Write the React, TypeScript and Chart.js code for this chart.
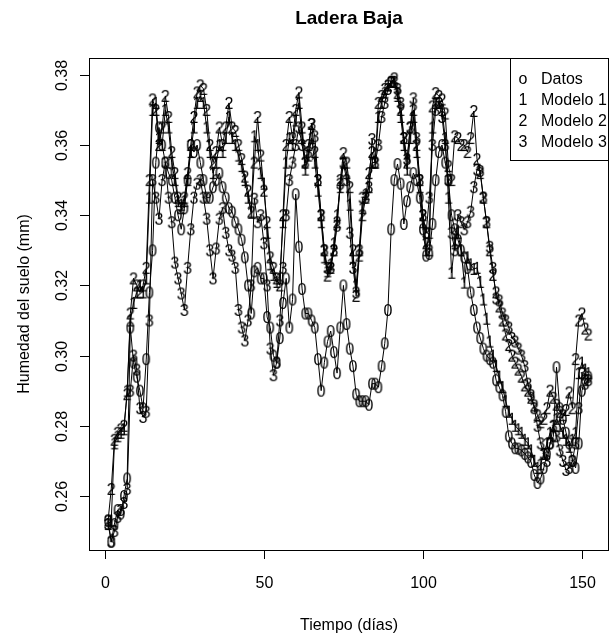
import React, { useEffect, useRef } from "react";
import { Chart, registerables } from "chart.js";

Chart.register(...registerables);

const title = "Ladera Baja";
const xTitle = "Tiempo (días)";
const yTitle = "Humedad del suelo (mm)";
const xTicks = [0, 50, 100, 150];
const yTicks = [0.26, 0.28, 0.3, 0.32, 0.34, 0.36, 0.38];
const legendNames = ["Datos", "Modelo 1", "Modelo 2", "Modelo 3"];
const legendSymbols = ["o", "1", "2", "3"];
const pointChars = ["0", "1", "2", "3"];

const datos = [
  0.253, 0.247, 0.252, 0.256, 0.255, 0.260, 0.265, 0.308, 0.298, 0.294,
  0.290, 0.285, 0.299, 0.318, 0.330, 0.355, 0.365, 0.360, 0.355, 0.352,
  0.350, 0.345, 0.340, 0.336, 0.342, 0.350, 0.360, 0.358, 0.360, 0.355,
  0.350, 0.345, 0.345, 0.348, 0.350, 0.352, 0.348, 0.345, 0.342, 0.341,
  0.338, 0.336, 0.333, 0.328, 0.320, 0.312, 0.324, 0.325, 0.322, 0.322,
  0.311, 0.308, 0.300, 0.298, 0.305, 0.315, 0.322, 0.308, 0.316, 0.346,
  0.331, 0.319, 0.312, 0.312, 0.310, 0.308, 0.299, 0.290, 0.298, 0.304,
  0.307, 0.301, 0.295, 0.308, 0.320, 0.309, 0.302, 0.297, 0.289, 0.287,
  0.287, 0.287, 0.286, 0.292, 0.292, 0.291, 0.297, 0.3035, 0.313, 0.336,
  0.350, 0.3546, 0.349, 0.3375, 0.344, 0.348, 0.352, 0.350, 0.345, 0.336,
  0.3285, 0.329, 0.3375, 0.350, 0.358, 0.360, 0.355, 0.350, 0.340, 0.336,
  0.333, 0.330, 0.328, 0.325, 0.318, 0.313, 0.308, 0.305, 0.302, 0.300,
  0.299, 0.298, 0.293, 0.291, 0.2887, 0.284, 0.277, 0.275, 0.2736, 0.2735,
  0.273, 0.272, 0.271, 0.2697, 0.266, 0.2637, 0.265, 0.268, 0.272, 0.275,
  0.277, 0.2967, 0.285, 0.282, 0.278, 0.275, 0.270, 0.268, 0.275, 0.290,
  0.293, 0.294,
];

const modelo1 = [
  0.252, 0.253, 0.275, 0.277, 0.278, 0.279, 0.290, 0.310, 0.315, 0.318,
  0.320, 0.318, 0.322, 0.345, 0.370, 0.372, 0.362, 0.360, 0.370, 0.365,
  0.355, 0.350, 0.344, 0.343, 0.344, 0.350, 0.358, 0.365, 0.372, 0.374,
  0.372, 0.365, 0.358, 0.352, 0.355, 0.360, 0.358, 0.362, 0.368, 0.362,
  0.360, 0.357, 0.354, 0.350, 0.345, 0.3407, 0.3625, 0.360, 0.352, 0.349,
  0.335, 0.326, 0.323, 0.321, 0.322, 0.338, 0.355, 0.362, 0.360, 0.367,
  0.372, 0.362, 0.353, 0.357, 0.362, 0.355, 0.347, 0.338, 0.328, 0.324,
  0.326, 0.332, 0.340, 0.348, 0.355, 0.352, 0.343, 0.328, 0.320, 0.330,
  0.342, 0.346, 0.348, 0.355, 0.355, 0.368, 0.372, 0.375, 0.377, 0.378,
  0.378, 0.374, 0.368, 0.360, 0.353, 0.362, 0.368, 0.358, 0.348, 0.338,
  0.330, 0.335, 0.365, 0.372, 0.372, 0.370, 0.362, 0.345, 0.3236, 0.332,
  0.335, 0.330, 0.3208, 0.328, 0.326, 0.3247, 0.325, 0.321, 0.316, 0.3105,
  0.304, 0.300, 0.297, 0.294, 0.291, 0.287, 0.284, 0.282, 0.280, 0.279,
  0.278, 0.276, 0.275, 0.273, 0.270, 0.268, 0.269, 0.272, 0.275, 0.278,
  0.280, 0.282, 0.280, 0.278, 0.276, 0.274, 0.276, 0.278, 0.295, 0.298,
  0.296, 0.295,
];

const modelo2 = [
  0.253, 0.262, 0.276, 0.278, 0.279, 0.280, 0.289, 0.312, 0.322, 0.320,
  0.318, 0.320, 0.325, 0.350, 0.373, 0.370, 0.360, 0.365, 0.374, 0.368,
  0.358, 0.352, 0.345, 0.342, 0.345, 0.352, 0.360, 0.368, 0.375, 0.377,
  0.376, 0.370, 0.360, 0.355, 0.358, 0.365, 0.360, 0.365, 0.372, 0.365,
  0.364, 0.360, 0.356, 0.351, 0.347, 0.341, 0.355, 0.368, 0.357, 0.347,
  0.338, 0.328, 0.325, 0.322, 0.320, 0.340, 0.360, 0.368, 0.362, 0.370,
  0.375, 0.365, 0.355, 0.360, 0.366, 0.358, 0.350, 0.340, 0.330, 0.3228,
  0.325, 0.330, 0.338, 0.350, 0.3577, 0.355, 0.348, 0.330, 0.317, 0.3285,
  0.340, 0.345, 0.352, 0.358, 0.355, 0.372, 0.374, 0.376, 0.377, 0.378,
  0.379, 0.3748, 0.370, 0.362, 0.355, 0.365, 0.370, 0.360, 0.350, 0.340,
  0.332, 0.330, 0.371, 0.3748, 0.374, 0.373, 0.369, 0.354, 0.350, 0.3625,
  0.362, 0.360, 0.360, 0.358, 0.362, 0.3697, 0.356, 0.352, 0.345, 0.338,
  0.330, 0.323, 0.318, 0.314, 0.310, 0.306, 0.303, 0.300, 0.298, 0.296,
  0.294, 0.2915, 0.290, 0.288, 0.2858, 0.283, 0.281, 0.282, 0.285, 0.290,
  0.288, 0.286, 0.284, 0.283, 0.2845, 0.2895, 0.285, 0.299, 0.310, 0.312,
  0.3077, 0.306,
];

const modelo3 = [
  0.252, 0.247, 0.250, 0.254, 0.256, 0.258, 0.262, 0.290, 0.300, 0.296,
  0.285, 0.2825, 0.284, 0.310, 0.350, 0.345, 0.339, 0.350, 0.355, 0.345,
  0.338, 0.3265, 0.322, 0.3177, 0.313, 0.325, 0.336, 0.345, 0.349, 0.350,
  0.345, 0.339, 0.330, 0.322, 0.3305, 0.339, 0.342, 0.335, 0.330, 0.3285,
  0.325, 0.313, 0.308, 0.3043, 0.310, 0.320, 0.3447, 0.338, 0.340, 0.332,
  0.320, 0.302, 0.2944, 0.298, 0.310, 0.325, 0.340, 0.350, 0.355, 0.360,
  0.365, 0.360, 0.355, 0.358, 0.366, 0.3625, 0.350, 0.340, 0.330, 0.325,
  0.325, 0.330, 0.337, 0.349, 0.355, 0.350, 0.335, 0.325, 0.318, 0.330,
  0.345, 0.345, 0.348, 0.3617, 0.355, 0.360, 0.368, 0.372, 0.376, 0.378,
  0.378, 0.376, 0.372, 0.362, 0.356, 0.365, 0.3733, 0.362, 0.350, 0.340,
  0.335, 0.345, 0.360, 0.370, 0.372, 0.368, 0.360, 0.350, 0.335, 0.330,
  0.340, 0.338, 0.336, 0.338, 0.341, 0.348, 0.353, 0.3526, 0.345, 0.338,
  0.331, 0.325, 0.3163, 0.3157, 0.312, 0.310, 0.308, 0.305, 0.304, 0.302,
  0.300, 0.297, 0.292, 0.2887, 0.285, 0.280, 0.275, 0.272, 0.270, 0.275,
  0.280, 0.277, 0.273, 0.270, 0.2674, 0.268, 0.270, 0.275, 0.285, 0.295,
  0.292, 0.293,
];

const series = [datos, modelo1, modelo2, modelo3];
const days = datos.map((_, i) => i + 1);

const FONT = '"Liberation Sans", Arial, Helvetica, sans-serif';

function makeGlyph(ch: string): HTMLCanvasElement {
  const c = document.createElement("canvas");
  c.width = 14;
  c.height = 18;
  const g = c.getContext("2d")!;
  g.fillStyle = "#000";
  g.font = `16px ${FONT}`;
  g.textAlign = "center";
  g.textBaseline = "alphabetic";
  g.fillText(ch, 7, 14.8);
  return c;
}

const rStylePlugin = {
  id: "rStyle",
  afterDraw(chart: any) {
    const { ctx, chartArea: a, scales } = chart;
    ctx.save();
    ctx.strokeStyle = "#000";
    ctx.fillStyle = "#000";
    ctx.lineWidth = 1;
    // plot box
    ctx.strokeRect(a.left + 0.5, a.top + 0.5, a.right - a.left - 1, a.bottom - a.top);
    ctx.font = `16px ${FONT}`;
    ctx.textAlign = "center";
    ctx.textBaseline = "middle";
    // x axis
    const xs = scales.x;
    xTicks.forEach((v) => {
      const x = Math.round(xs.getPixelForValue(v)) + 0.5;
      ctx.beginPath();
      ctx.moveTo(x, a.bottom);
      ctx.lineTo(x, a.bottom + 9);
      ctx.stroke();
      ctx.fillText(String(v), x, a.bottom + 34);
    });
    // y axis
    const ys = scales.y;
    yTicks.forEach((v) => {
      const y = Math.round(ys.getPixelForValue(v)) + 0.5;
      ctx.beginPath();
      ctx.moveTo(a.left - 9, y);
      ctx.lineTo(a.left, y);
      ctx.stroke();
      ctx.save();
      ctx.translate(a.left - 26, y);
      ctx.rotate(-Math.PI / 2);
      ctx.fillText(v.toFixed(2), 0, 0);
      ctx.restore();
    });
    // axis titles
    ctx.fillText(xTitle, (a.left + a.right) / 2, a.bottom + 76);
    ctx.save();
    ctx.translate(25, (a.top + a.bottom) / 2);
    ctx.rotate(-Math.PI / 2);
    ctx.fillText(yTitle, 0, 0);
    ctx.restore();
    // main title
    ctx.font = `bold 19px ${FONT}`;
    ctx.fillText(title, (a.left + a.right) / 2, 19);
    // legend
    const lx = 510;
    const lw = a.right - lx;
    const lh = 102;
    ctx.fillStyle = "#fff";
    ctx.fillRect(lx + 0.5, a.top + 0.5, lw - 1, lh);
    ctx.strokeRect(lx + 0.5, a.top + 0.5, lw - 1, lh);
    ctx.fillStyle = "#000";
    ctx.font = `16px ${FONT}`;
    legendNames.forEach((name, i) => {
      const y = a.top + 22 + i * 20.8;
      ctx.textAlign = "center";
      ctx.fillText(legendSymbols[i], lx + 13, y);
      ctx.textAlign = "left";
      ctx.fillText(name, lx + 31, y);
    });
    ctx.restore();
  },
};

export default function App() {
  const ref = useRef<HTMLCanvasElement | null>(null);
  useEffect(() => {
    if (!ref.current) return;
    const glyphs = pointChars.map(makeGlyph);
    const chart = new Chart(ref.current, {
      type: "line",
      data: {
        datasets: series.map((s, k) => ({
          label: legendNames[k],
          data: s.map((v, i) => ({ x: days[i], y: v })),
          borderColor: "#000",
          borderWidth: 1,
          backgroundColor: "#000",
          pointStyle: glyphs[k] as any,
          pointRadius: 6,
          tension: 0,
          fill: false,
          order: 4 - k,
        })),
      },
      options: {
        responsive: false,
        animation: false,
        events: [],
        layout: { padding: { left: 89, right: 2, top: 58, bottom: 85 } },
        scales: {
          x: { type: "linear", min: -5.0, max: 158.5, display: false },
          y: { type: "linear", min: 0.2446, max: 0.3848, display: false },
        },
        plugins: {
          legend: { display: false },
          title: { display: false },
          tooltip: { enabled: false },
        },
      },
      plugins: [rStylePlugin],
    });
    return () => chart.destroy();
  }, []);
  return (
    <div style={{ position: "absolute", left: 0, top: 0, width: 616, height: 635, background: "#fff" }}>
      <canvas ref={ref} width={616} height={635} style={{ display: "block" }} />
    </div>
  );
}
